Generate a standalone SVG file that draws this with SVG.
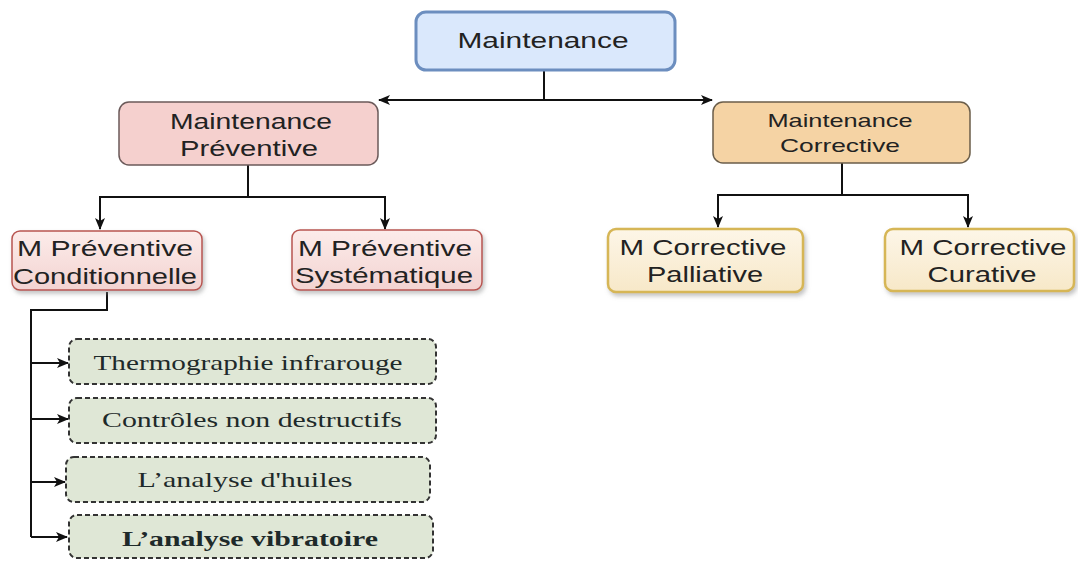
<svg xmlns="http://www.w3.org/2000/svg" width="1078" height="561" viewBox="0 0 1078 561">
<style>
.sans{font-family:"Liberation Sans",Arial,sans-serif;fill:#222;text-anchor:middle}
.serif{font-family:"Liberation Serif","Times New Roman",serif;fill:#1e2a2a;text-anchor:middle;font-size:22px}
.conn{fill:none;stroke:#111;stroke-width:2}
.green{fill:#dfe7d6;stroke:#333;stroke-width:2;stroke-dasharray:5 3}
</style>
<defs>
<marker id="ah" viewBox="0 0 12 10" refX="11" refY="5" markerWidth="12" markerHeight="10" orient="auto-start-reverse" markerUnits="userSpaceOnUse">
<path d="M0,0 L12,5 L0,10 L3,5 Z" fill="#111"/>
</marker>
<linearGradient id="gp" x1="0" y1="0" x2="0" y2="1">
<stop offset="0" stop-color="#fcecea"/><stop offset="1" stop-color="#f3d3d1"/>
</linearGradient>
<linearGradient id="gy" x1="0" y1="0" x2="0" y2="1">
<stop offset="0" stop-color="#fdf6e8"/><stop offset="1" stop-color="#f7e8c8"/>
</linearGradient>
<filter id="sh" x="-10%" y="-10%" width="130%" height="140%">
<feDropShadow dx="2" dy="3" stdDeviation="2" flood-color="#888" flood-opacity="0.5"/>
</filter>
</defs>

<g id="connectors">
<path class="conn" d="M544,70 V100"/>
<path class="conn" d="M379,100 H712" marker-start="url(#ah)" marker-end="url(#ah)"/>
<path class="conn" d="M248,165 V197"/>
<path class="conn" d="M100,229 V197 H385 V229" marker-start="url(#ah)" marker-end="url(#ah)"/>
<path class="conn" d="M842,163 V195"/>
<path class="conn" d="M718,227 V195 H968 V227" marker-start="url(#ah)" marker-end="url(#ah)"/>
<path class="conn" d="M107,292 V310 H31 V537"/>
<path class="conn" d="M31,363 H68" marker-end="url(#ah)"/>
<path class="conn" d="M31,419 H68" marker-end="url(#ah)"/>
<path class="conn" d="M31,482 H65" marker-end="url(#ah)"/>
<path class="conn" d="M31,537 H67" marker-end="url(#ah)"/>
</g>

<g id="n-maintenance">
<rect x="416" y="12" width="259" height="58" rx="10" fill="#dae8fc" stroke="#6c8ebf" stroke-width="3"/>
<text class="sans" x="543" y="48" font-size="22" textLength="171" lengthAdjust="spacingAndGlyphs">Maintenance</text>
</g>

<g id="n-preventive">
<rect x="119" y="102" width="259" height="63" rx="10" fill="#f5d0ce" stroke="#6b5a5a" stroke-width="1.5"/>
<text class="sans" x="251" y="129" font-size="22" textLength="162" lengthAdjust="spacingAndGlyphs">Maintenance</text>
<text class="sans" x="249" y="156" font-size="22" textLength="138" lengthAdjust="spacingAndGlyphs">Préventive</text>
</g>

<g id="n-corrective">
<rect x="713" y="102" width="257" height="61" rx="10" fill="#f5d3a4" stroke="#6b5e4a" stroke-width="1.5"/>
<text class="sans" x="840" y="127" font-size="19" textLength="145" lengthAdjust="spacingAndGlyphs">Maintenance</text>
<text class="sans" x="840" y="152" font-size="19" textLength="120" lengthAdjust="spacingAndGlyphs">Corrective</text>
</g>

<g id="n-conditionnelle">
<rect x="12" y="231" width="190" height="59" rx="8" fill="url(#gp)" stroke="#b85450" stroke-width="1.5" filter="url(#sh)"/>
<text class="sans" x="105" y="256" font-size="22" textLength="176" lengthAdjust="spacingAndGlyphs">M Préventive</text>
<text class="sans" x="105" y="284" font-size="22" textLength="184" lengthAdjust="spacingAndGlyphs">Conditionnelle</text>
</g>

<g id="n-systematique">
<rect x="292" y="230" width="190" height="60" rx="8" fill="url(#gp)" stroke="#b85450" stroke-width="1.5" filter="url(#sh)"/>
<text class="sans" x="385" y="256" font-size="22" textLength="174" lengthAdjust="spacingAndGlyphs">M Préventive</text>
<text class="sans" x="384" y="283" font-size="22" textLength="178" lengthAdjust="spacingAndGlyphs">Systématique</text>
</g>

<g id="n-palliative">
<rect x="608" y="229" width="195" height="63" rx="8" fill="url(#gy)" stroke="#d6b656" stroke-width="2.5" filter="url(#sh)"/>
<text class="sans" x="703" y="255" font-size="22" textLength="167" lengthAdjust="spacingAndGlyphs">M Corrective</text>
<text class="sans" x="705" y="282" font-size="22" textLength="116" lengthAdjust="spacingAndGlyphs">Palliative</text>
</g>

<g id="n-curative">
<rect x="885" y="229" width="189" height="62" rx="8" fill="url(#gy)" stroke="#d6b656" stroke-width="2.5" filter="url(#sh)"/>
<text class="sans" x="983" y="255" font-size="22" textLength="167" lengthAdjust="spacingAndGlyphs">M Corrective</text>
<text class="sans" x="982" y="282" font-size="22" textLength="109" lengthAdjust="spacingAndGlyphs">Curative</text>
</g>

<g id="n-thermo">
<rect class="green" x="69" y="339" width="367" height="45" rx="8"/>
<text class="serif" x="248" y="370" textLength="309" lengthAdjust="spacingAndGlyphs">Thermographie infrarouge</text>
</g>

<g id="n-controles">
<rect class="green" x="69" y="398" width="367" height="45" rx="8"/>
<text class="serif" x="252" y="427" textLength="300" lengthAdjust="spacingAndGlyphs">Contrôles non destructifs</text>
</g>

<g id="n-huiles">
<rect class="green" x="66" y="457" width="364" height="45" rx="8"/>
<text class="serif" x="245" y="487" textLength="215" lengthAdjust="spacingAndGlyphs">L’analyse d'huiles</text>
</g>

<g id="n-vibratoire">
<rect class="green" x="69" y="515" width="364" height="43" rx="8"/>
<text class="serif" x="250" y="546" font-weight="bold" textLength="256" lengthAdjust="spacingAndGlyphs">L’analyse vibratoire</text>
</g>
</svg>
